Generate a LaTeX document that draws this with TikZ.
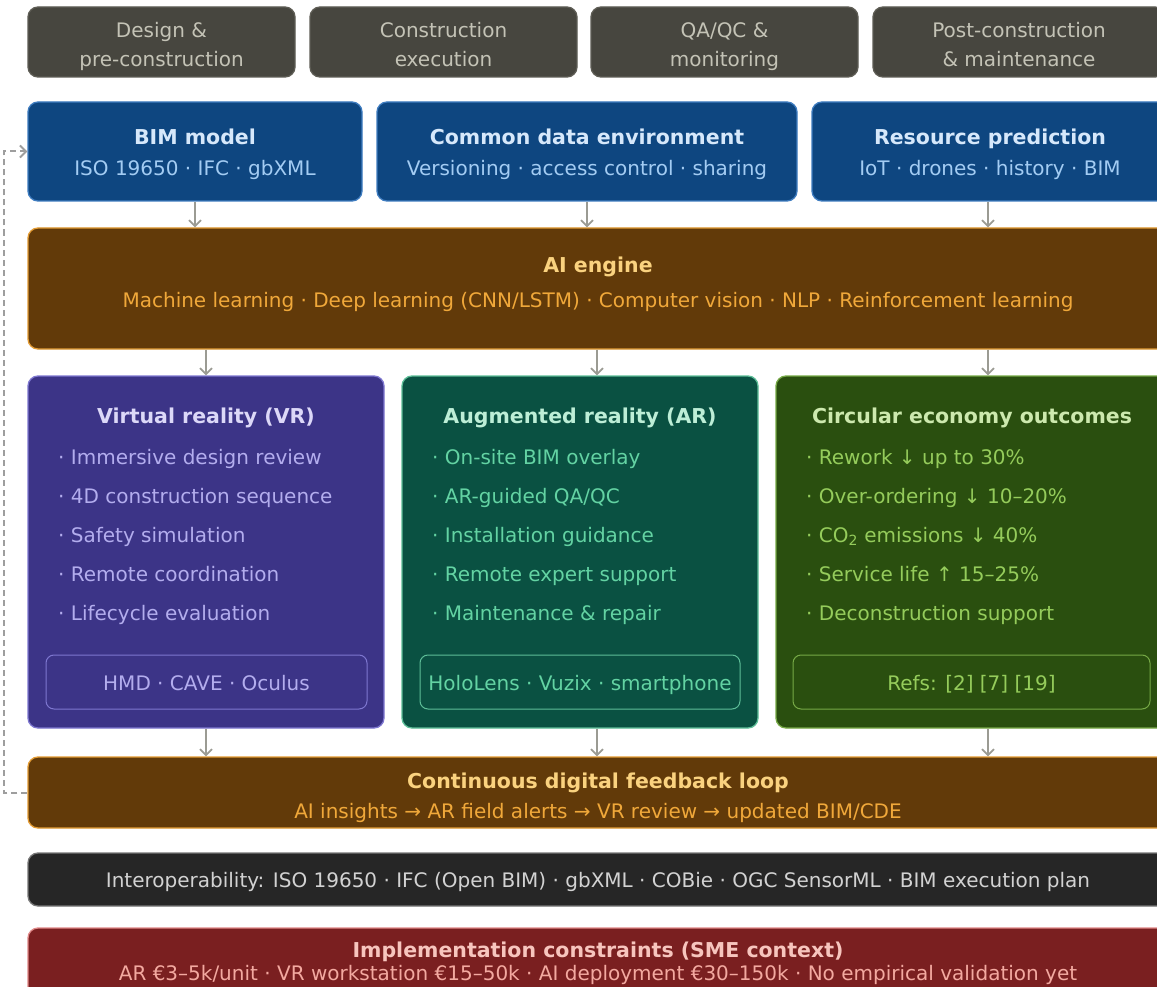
\documentclass[tikz,border=0pt]{standalone}
\usepackage{fontspec}
\setmainfont{DejaVu Sans}
\usetikzlibrary{arrows.meta}
\definecolor{phasefill}{HTML}{47463F}
\definecolor{phaseline}{HTML}{5E5D55}
\definecolor{phasetext}{HTML}{C4C3B6}
\definecolor{bimfill}{HTML}{0E4680}
\definecolor{bimline}{HTML}{3E7CC0}
\definecolor{bimhead}{HTML}{D6E8FB}
\definecolor{bimtext}{HTML}{A3CCF3}
\definecolor{aifill}{HTML}{623A09}
\definecolor{ailine}{HTML}{E39B33}
\definecolor{aihead}{HTML}{FAD27F}
\definecolor{aitext}{HTML}{F0A83A}
\definecolor{vrfill}{HTML}{3C3487}
\definecolor{vrline}{HTML}{7E77D0}
\definecolor{vrhead}{HTML}{DCD8F8}
\definecolor{vrtext}{HTML}{B3ADEE}
\definecolor{arfill}{HTML}{0A5142}
\definecolor{arline}{HTML}{5DBE98}
\definecolor{arhead}{HTML}{BDEED7}
\definecolor{artext}{HTML}{63D3A3}
\definecolor{cefill}{HTML}{2A4F0F}
\definecolor{celine}{HTML}{76A946}
\definecolor{cehead}{HTML}{CDE9AE}
\definecolor{cetext}{HTML}{95CC5B}
\definecolor{iofill}{HTML}{262626}
\definecolor{ioline}{HTML}{777777}
\definecolor{iotext}{HTML}{D2D2D2}
\definecolor{icfill}{HTML}{7A1F20}
\definecolor{icline}{HTML}{E08888}
\definecolor{ichead}{HTML}{F7C5BE}
\definecolor{ictext}{HTML}{F3A9A0}
\definecolor{arrowgray}{HTML}{9B9B93}
\definecolor{loopgray}{HTML}{9E9E9E}
\begin{document}
\begin{tikzpicture}[x=1pt, y=-1pt,
    box/.style={rectangle, rounded corners=10pt, line width=1.3pt, inner sep=0pt},
    tag/.style={rectangle, rounded corners=8pt, line width=1pt, inner sep=0pt, minimum height=54pt},
    txt/.style={inner sep=0pt, anchor=base, font=\fontsize{20}{24}\selectfont},
    head/.style={inner sep=0pt, anchor=base, font=\fontsize{20.5}{24}\selectfont\bfseries},
    item/.style={inner sep=0pt, anchor=base west, font=\fontsize{20}{24}\selectfont},
    flow/.style={draw=arrowgray, line width=1.7pt, -{Straight Barb[length=6pt, width=12pt]}},
    back/.style={draw=loopgray, line width=2pt, dash pattern=on 6pt off 4pt, -{Straight Barb[length=6pt, width=12pt]}}]
    \useasboundingbox (0,0) rectangle (1157,987);
    \fill[white] (0,0) rectangle (1157,987);
    \clip (0,0) rectangle (1157,987);

    \node[box, fill=phasefill, draw=phaseline, minimum width=267pt, minimum height=70pt] (design) at (161.5,42) {};
    \node[box, fill=phasefill, draw=phaseline, minimum width=267pt, minimum height=70pt] (build) at (443.5,42) {};
    \node[box, fill=phasefill, draw=phaseline, minimum width=267pt, minimum height=70pt] (qaqc) at (724.5,42) {};
    \node[box, fill=phasefill, draw=phaseline, minimum width=292pt, minimum height=70pt] (post) at (1019,42) {};
    \node[txt, text=phasetext] (designA) at (161.5,38) {Design \&};
    \node[txt, text=phasetext] (designB) at (161.5,66.5) {pre-construction};
    \node[txt, text=phasetext] (buildA) at (443.5,38) {Construction};
    \node[txt, text=phasetext] (buildB) at (443.5,66.5) {execution};
    \node[txt, text=phasetext] (qaqcA) at (724.5,38) {QA/QC \&};
    \node[txt, text=phasetext] (qaqcB) at (724.5,66.5) {monitoring};
    \node[txt, text=phasetext] (postA) at (1019,38) {Post-construction};
    \node[txt, text=phasetext] (postB) at (1019,66.5) {\& maintenance};

    \node[box, fill=bimfill, draw=bimline, minimum width=334pt, minimum height=99pt] (bim) at (195,151.5) {};
    \node[box, fill=bimfill, draw=bimline, minimum width=420pt, minimum height=99pt] (cde) at (587,151.5) {};
    \node[box, fill=bimfill, draw=bimline, minimum width=356pt, minimum height=99pt] (res) at (990,151.5) {};
    \node[head, text=bimhead] (bimT) at (195,144.5) {BIM model};
    \node[txt, text=bimtext] (bimS) at (195,175.5) {ISO 19650 · IFC · gbXML};
    \node[head, text=bimhead] (cdeT) at (587,144.5) {Common data environment};
    \node[txt, text=bimtext] (cdeS) at (587,175.5) {Versioning · access control · sharing};
    \node[head, text=bimhead] (resT) at (990,144.5) {Resource prediction};
    \node[txt, text=bimtext] (resS) at (990,175.5) {IoT · drones · history · BIM};

    \node[box, fill=aifill, draw=ailine, minimum width=1140pt, minimum height=121pt] (ai) at (598,288.5) {};
    \node[head, text=aihead] (aiT) at (598,272.5) {AI engine};
    \node[txt, text=aitext] (aiS) at (598,307) {Machine learning · Deep learning (CNN/LSTM) · Computer vision · NLP · Reinforcement learning};

    \node[box, fill=vrfill, draw=vrline, minimum width=356pt, minimum height=352pt] (vr) at (206,552) {};
    \node[box, fill=arfill, draw=arline, minimum width=356pt, minimum height=352pt] (ar) at (580,552) {};
    \node[box, fill=cefill, draw=celine, minimum width=392pt, minimum height=352pt] (ce) at (972,552) {};
    \node[head, text=vrhead] (vrT) at (206,423.5) {Virtual reality (VR)};
    \node[head, text=arhead] (arT) at (580,423.5) {Augmented reality (AR)};
    \node[head, text=cehead] (ceT) at (972,423.5) {Circular economy outcomes};
    \foreach \t [count=\i] in {Immersive design review, 4D construction sequence, Safety simulation, Remote coordination, Lifecycle evaluation}
        \node[item, text=vrtext] (vrI\i) at (58,425+39*\i) {· \t};
    \foreach \t [count=\i] in {On-site BIM overlay, AR-guided QA/QC, Installation guidance, Remote expert support, Maintenance \& repair}
        \node[item, text=artext] (arI\i) at (432,425+39*\i) {· \t};
    \foreach \t [count=\i] in {Rework ↓ up to 30\%, Over-ordering ↓ 10–20\%, CO\textsubscript{2} emissions ↓ 40\%, Service life ↑ 15–25\%, Deconstruction support}
        \node[item, text=cetext] (ceI\i) at (806,425+39*\i) {· \t};
    \node[tag, draw=vrline, minimum width=321pt] (vrD) at (206.5,682) {};
    \node[tag, draw=arline, minimum width=320pt] (arD) at (580,682) {};
    \node[tag, draw=celine, minimum width=357pt] (ceD) at (971.5,682) {};
    \node[txt, text=vrtext] (vrDT) at (206.5,690) {HMD · CAVE · Oculus};
    \node[txt, text=artext] (arDT) at (580,690) {HoloLens · Vuzix · smartphone};
    \node[txt, text=cetext] (ceDT) at (971.5,690) {Refs: [2] [7] [19]};

    \node[box, fill=aifill, draw=ailine, minimum width=1140pt, minimum height=71pt] (fb) at (598,792.5) {};
    \node[head, text=aihead] (fbT) at (598,788.5) {Continuous digital feedback loop};
    \node[txt, text=aitext] (fbS) at (598,818) {AI insights → AR field alerts → VR review → updated BIM/CDE};

    \node[box, fill=iofill, draw=ioline, minimum width=1140pt, minimum height=53pt] (io) at (598,879.5) {};
    \node[txt, text=iotext] (ioT) at (598,887) {Interoperability: ISO 19650 · IFC (Open BIM) · gbXML · COBie · OGC SensorML · BIM execution plan};

    \node[box, fill=icfill, draw=icline, minimum width=1140pt, minimum height=72pt] (ic) at (598,964) {};
    \node[head, text=ichead] (icT) at (598,957.5) {Implementation constraints (SME context)};
    \node[txt, text=ictext] (icS) at (598,980) {AR €3–5k/unit · VR workstation €15–50k · AI deployment €30–150k · No empirical validation yet};

    \coordinate (midB) at (597,0);
    \coordinate (midC) at (988,0);
    \draw[flow] (bim.south) -- (bim.south |- ai.north);
    \draw[flow] (cde.south) -- (cde.south |- ai.north);
    \draw[flow] (res.south -| midC) -- (ai.north -| midC);
    \draw[flow] (ai.south -| vr.north) -- (vr.north);
    \draw[flow] (ai.south -| midB) -- (ar.north -| midB);
    \draw[flow] (ai.south -| midC) -- (ce.north -| midC);
    \draw[flow] (vr.south) -- (vr.south |- fb.north);
    \draw[flow] (ar.south -| midB) -- (fb.north -| midB);
    \draw[flow] (ce.south -| midC) -- (fb.north -| midC);
    \draw[back] (fb.west) -- ++(-23,0) |- (bim.west);
\end{tikzpicture}
\end{document}
